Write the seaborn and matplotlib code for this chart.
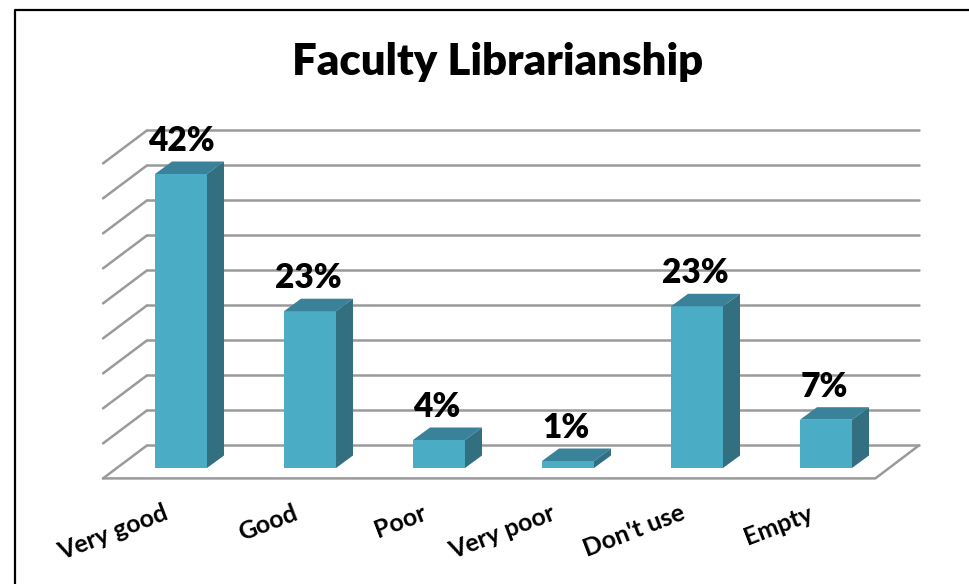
# chart rebuild: Faculty Librarianship, fake 3D columns on seaborn bars
import pandas as pd
import seaborn as sns
import matplotlib.pyplot as plt
from matplotlib.patches import Polygon

categories = ['Very good', 'Good', 'Poor', 'Very poor', "Don't use", 'Empty']
heights = [42, 22.4, 4, 1, 23.1, 6.9]
value_labels = ['42%', '23%', '4%', '1%', '23%', '7%']
grid_values = [0, 5, 10, 15, 20, 25, 30, 35, 40, 45]

FRONT = '#4bacc6'
TOP = '#3a8299'
SIDE = '#326f80'
GRID = '#9a9a9a'

sns.set_theme(style='white')
plt.rcParams['font.family'] = ['Lato', 'DejaVu Sans']

df = pd.DataFrame({'category': categories, 'value': heights})

fig = plt.figure(figsize=(9.7, 5.84), dpi=100)
ax = fig.add_axes([0, 0, 1, 1])
sns.barplot(data=df, x='category', y='value', color=FRONT, saturation=1, width=0.403, ax=ax, zorder=3, linewidth=0)

# one category = 129 px, one percent = 7 px, bar 0 centred at x=181, base at y=468
ax.set_xlim(-181 / 129, (970 - 181) / 129)
ax.set_ylim((468 - 584) / 7, 468 / 7)
ax.axis('off')

dx = 17 / 129
dy = 12.5 / 7

# walls and floor
wall_dx = 44 / 129
wall_dy = 33 / 7
back_left = (147 - 181) / 129
back_right = (919 - 181) / 129
base = 22.6 / 7
for g in grid_values:
    y = base + g
    ax.plot([back_left, back_right], [y, y], color=GRID, lw=1.8, zorder=1)
    ax.plot([back_left - wall_dx, back_left], [y - wall_dy, y], color=GRID, lw=1.8, zorder=1)
front_y = base - wall_dy
front_right = back_right - wall_dx + 0.003
ax.plot([back_left - wall_dx, front_right, back_right], [front_y, front_y, base], color=GRID, lw=1.8, zorder=1)

# top and side faces taken from the bars
for rect in ax.patches[:len(categories)]:
    x0 = rect.get_x()
    x1 = x0 + rect.get_width()
    h = rect.get_height()
    ax.add_patch(Polygon([(x0, h), (x1, h), (x1 + dx, h + dy), (x0 + dx, h + dy)], color=TOP, lw=0, zorder=3))
    ax.add_patch(Polygon([(x1, 0), (x1 + dx, dy), (x1 + dx, h + dy), (x1, h)], color=SIDE, lw=0, zorder=3))

for i, (h, lab) in enumerate(zip(heights, value_labels)):
    ax.text(i - 0.015 * (i > 0), h + 33 / 7, lab, ha='center', va='center', fontsize=24,
            fontweight='heavy', color='black', zorder=4)

for i, cat in enumerate(categories):
    ax.text(i - 0.105, -6.3, cat, ha='right', va='center', rotation=21, rotation_mode='anchor',
            fontsize=18, fontweight='bold', color='black')

ax.text(498 / 970, 1 - 62 / 584, 'Faculty Librarianship', transform=ax.transAxes, ha='center', va='center',
        fontsize=31.5, fontweight='heavy', color='black')

# chart frame, only top and left show
ax.plot([15 / 970, 15 / 970, 1], [0, 1 - 10 / 584, 1 - 10 / 584], transform=ax.transAxes, color='black', lw=1.6, clip_on=False)

fig.savefig('out.png', dpi=100, facecolor='white')
